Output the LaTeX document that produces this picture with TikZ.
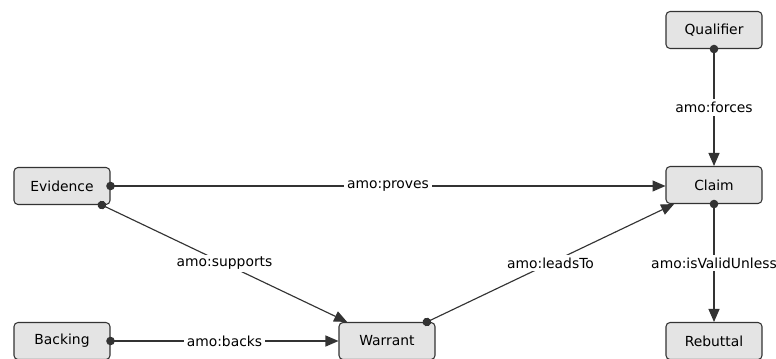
\documentclass[tikz,border=0pt]{standalone}
\usepackage{fontspec}
\setmainfont{DejaVu Sans}
\usetikzlibrary{arrows.meta}
\definecolor{boxgrey}{HTML}{E4E4E4}
\definecolor{edgegrey}{HTML}{333333}
\tikzset{
  concept/.style = {draw=edgegrey, fill=boxgrey, rounded corners=0.08cm, line width=0.6pt,
    minimum width=1.92cm, minimum height=0.74cm, inner sep=0pt, font=\fontsize{7.9}{9}\selectfont},
  relation/.style = {draw=edgegrey, line width=0.65pt, shorten <=-0.085cm,
    {Circle[length=0.17cm]}-{Triangle[length=0.26cm,width=0.22cm]}},
  rlabel/.style = {fill=white, inner sep=1.5pt, font=\fontsize{7.9}{9}\selectfont}
}
\begin{document}
\begin{tikzpicture}[x=0.02cm, y=-0.02cm]
    \clip (0,0) rectangle (776,358);
    \useasboundingbox (0,0) rectangle (776,358);
    \node [concept] (qualifier) at (714,30) {Qualifier};
    \node [concept] (claim) at (714,185) {Claim};
    \node [concept] (evidence) at (62,186) {Evidence};
    \node [concept] (backing) at (62,341) {Backing};
    \node [concept] (warrant) at (387,341) {Warrant};
    \node [concept] (rebuttal) at (714,341) {Rebuttal};
    \draw [relation] (evidence.east) -- node [rlabel] {amo:proves} (evidence.east -| claim.west);
    \draw [relation] (evidence) -- node [rlabel] {amo:supports} (warrant);
    \draw [relation] (backing) -- node [rlabel] {amo:backs} (warrant);
    \draw [relation] (warrant) -- node [rlabel] {amo:leadsTo} (claim);
    \draw [relation] (qualifier) -- node [rlabel] {amo:forces} (claim);
    \draw [relation] (claim) -- node [rlabel] {amo:isValidUnless} (rebuttal);
\end{tikzpicture}
\end{document}
